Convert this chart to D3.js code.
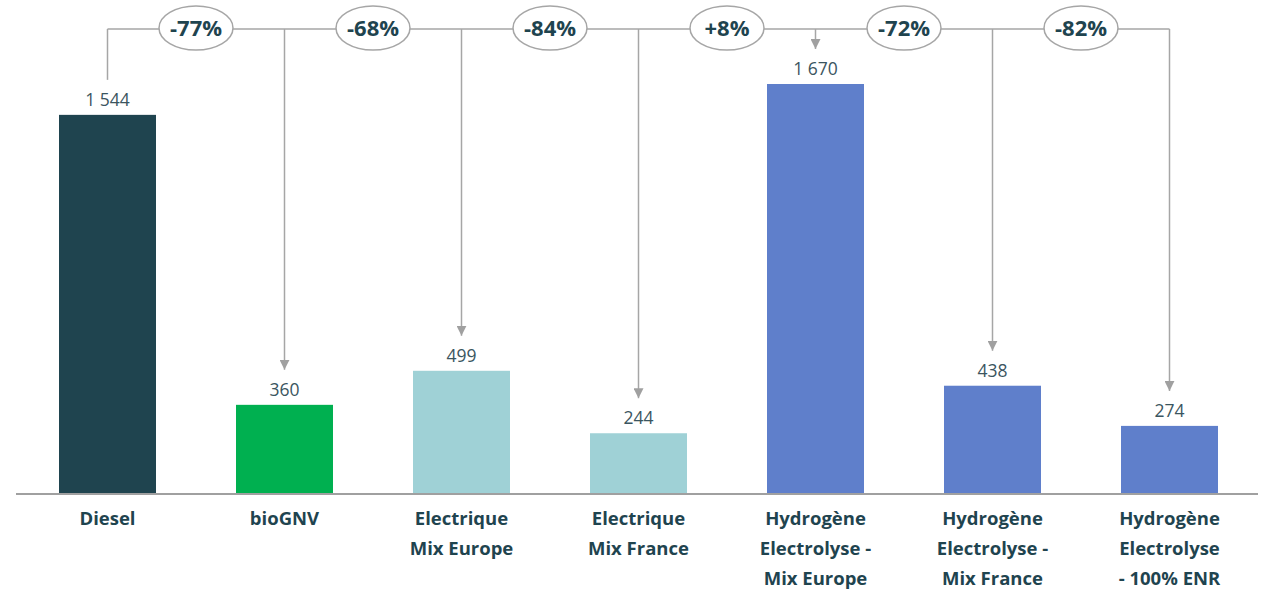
<!DOCTYPE html>
<html>
<head>
<meta charset="utf-8">
<script src="https://cdn.jsdelivr.net/npm/d3@7"></script>
<style>
  body { margin: 0; background: #fff; }
  text { font-family: "Open Sans", "Noto Sans", sans-serif; }
</style>
</head>
<body>
<script>
const categories = [
    ["Diesel"],
    ["bioGNV"],
    ["Electrique", "Mix Europe"],
    ["Electrique", "Mix France"],
    ["Hydrogène", "Electrolyse -", "Mix Europe"],
    ["Hydrogène", "Electrolyse -", "Mix France"],
    ["Hydrogène", "Electrolyse", "- 100% ENR"]
]
const values = [1544, 360, 499, 244, 1670, 438, 274]
const valueLabels = ["1 544", "360", "499", "244", "1 670", "438", "274"]
const changes = ["-77%", "-68%", "-84%", "+8%", "-72%", "-82%"]
const colors = ["#1f444f", "#00b050", "#9fd1d6", "#9fd1d6", "#5f7fcb", "#5f7fcb", "#5f7fcb"]

const width = 1268, height = 591
const base = 493, topY = 84, lineY = 29

const svg = d3.select("body").append("svg")
    .attr("width", width)
    .attr("height", height)

const idx = d3.range(values.length)

const xs = d3.scaleBand()
    .domain(idx)
    .range([19, 1258])
    .paddingInner(0.452)
    .paddingOuter(0.226)

const ys = d3.scaleLinear()
    .domain([0, d3.max(values)])
    .range([base, topY])

const cx = i => xs(i) + xs.bandwidth() / 2

svg.append("defs").append("marker")
    .attr("id", "arr")
    .attr("viewBox", "0 0 10 10")
    .attr("refX", 10).attr("refY", 5)
    .attr("markerWidth", 10).attr("markerHeight", 10)
    .attr("markerUnits", "userSpaceOnUse")
    .attr("orient", "auto")
    .append("path")
    .attr("d", "M0,0 L10,5 L0,10 Z")
    .attr("fill", "#a0a0a0")

// bars
svg.selectAll("rect.bar")
    .data(values)
    .enter()
    .append("rect")
    .attr("class", "bar")
    .attr("x", (d, i) => xs(i))
    .attr("y", d => ys(d))
    .attr("width", xs.bandwidth())
    .attr("height", d => base - ys(d))
    .attr("fill", (d, i) => colors[i])

// axis line
svg.append("line")
    .attr("x1", 16).attr("x2", 1258)
    .attr("y1", base + 1).attr("y2", base + 1)
    .attr("stroke", "#a0a0a0")
    .attr("stroke-width", 2)

// value labels
svg.selectAll("text.val")
    .data(values)
    .enter()
    .append("text")
    .attr("class", "val")
    .attr("x", (d, i) => cx(i))
    .attr("y", d => ys(d) - 9)
    .attr("text-anchor", "middle")
    .attr("font-size", 17.5)
    .attr("fill", "#3b5560")
    .text((d, i) => valueLabels[i])

// connectors
const g = svg.append("g")
    .attr("stroke", "#a6a6a6")
    .attr("stroke-width", 1.5)
    .attr("fill", "none")

g.append("line")
    .attr("x1", cx(0)).attr("x2", cx(values.length - 1))
    .attr("y1", lineY).attr("y2", lineY)

g.selectAll("line.drop")
    .data(values)
    .enter()
    .append("line")
    .attr("class", "drop")
    .attr("x1", (d, i) => cx(i)).attr("x2", (d, i) => cx(i))
    .attr("y1", lineY)
    .attr("y2", d => ys(d) - 35)
    .attr("marker-end", (d, i) => i === 0 ? null : "url(#arr)")

// percentage bubbles
const bub = svg.selectAll("g.bub")
    .data(changes)
    .enter()
    .append("g")
    .attr("class", "bub")
    .attr("transform", (d, i) => `translate(${(cx(i) + cx(i + 1)) / 2},${lineY - 1})`)

bub.append("ellipse")
    .attr("rx", 37).attr("ry", 22)
    .attr("fill", "#fff")
    .attr("stroke", "#a6a6a6")
    .attr("stroke-width", 1.5)

bub.append("text")
    .attr("text-anchor", "middle")
    .attr("dy", 8)
    .attr("font-size", 22)
    .attr("font-weight", "bold")
    .attr("fill", "#1f444f")
    .text(d => d)

// category labels
const cat = svg.selectAll("text.cat")
    .data(categories)
    .enter()
    .append("text")
    .attr("class", "cat")
    .attr("text-anchor", "middle")
    .attr("font-size", 18.5)
    .attr("font-weight", "bold")
    .attr("fill", "#1f444f")

cat.selectAll("tspan")
    .data((d, i) => d.map(t => ({t, i})))
    .enter()
    .append("tspan")
    .attr("x", d => cx(d.i))
    .attr("y", (d, j) => 525 + j * 30)
    .text(d => d.t)
</script>
</body>
</html>
